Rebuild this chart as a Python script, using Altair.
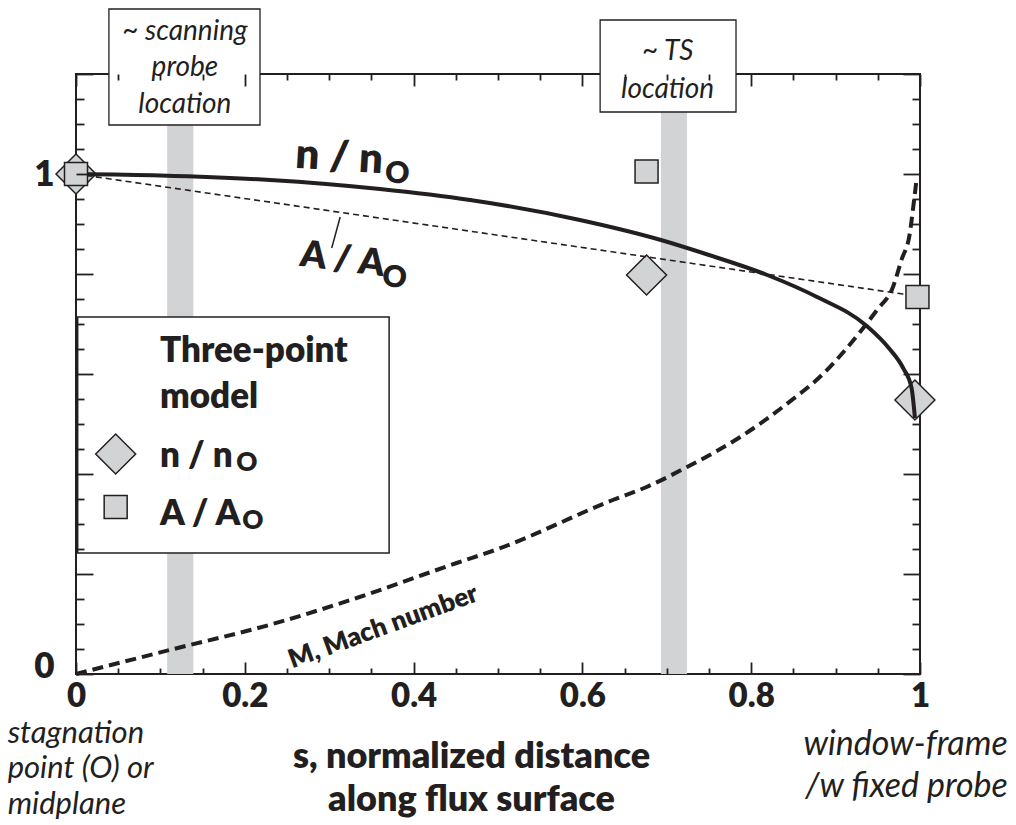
import altair as alt
import pandas as pd

INK = "#231f20"
GRAY = "#d1d3d4"
FONT = "Lato"
BOLD = 800

# ---- curves (s = normalized distance) ----
n_s = [0, 0.1, 0.23, 0.36, 0.467, 0.597, 0.693, 0.75, 0.819, 0.878, 0.937, 0.964, 0.98, 0.99, 0.994]
n_v = [1, 0.997, 0.988, 0.970, 0.948, 0.908, 0.868, 0.838, 0.798, 0.754, 0.696, 0.650, 0.612, 0.572, 0.512]

m_s = [0, 0.111, 0.233, 0.336, 0.451, 0.5, 0.636, 0.676, 0.724, 0.787, 0.842, 0.885,
       0.929, 0.949, 0.968, 0.978, 0.988, 0.992, 0.996]
m_v = [0, 0.048, 0.100, 0.154, 0.222, 0.25, 0.348, 0.374, 0.414, 0.474, 0.540, 0.600,
       0.684, 0.728, 0.774, 0.828, 0.882, 0.934, 0.99]

a_s = [0, 1]
a_v = [1, 0.755]

# ---- three-point model markers ----
diam_s = [0, 0.676, 0.994]
diam_v = [1, 0.798, 0.548]
sq_s = [0, 0.676, 0.997]
sq_v = [1, 1.005, 0.754]

# ---- shaded diagnostic locations ----
band_lo = [0.108, 0.693]
band_hi = [0.139, 0.724]
band_top = [1.098, 1.124]

# ---- label boxes ----
box_x1 = [0.039, 0.621]
box_x2 = [0.218, 0.782]
box_y1 = [1.098, 1.124]
box_y2 = [1.33, 1.308]
box_text = ["~ scanning", "probe", "location", "~ TS", "location"]
box_text_s = [0.129, 0.129, 0.129, 0.701, 0.701]
box_text_v = [1.268, 1.196, 1.122, 1.228, 1.152]

# ---- legend ----
leg_box = [0.002, 0.371, 0.242, 0.714]
leg_title = ["Three-point", "model"]
leg_title_s = [0.0995, 0.0995]
leg_title_v = [0.624, 0.532]
leg_lab = ["n / n", "A / A"]
leg_lab_s = [0.0995, 0.0995]
leg_lab_v = [0.414, 0.298]
leg_sub = ["O", "O"]
leg_sub_s = [0.190, 0.197]
leg_sub_v = [0.406, 0.290]
leg_diam = [0.047, 0.44]
leg_sq = [0.047, 0.334]

# ---- curve labels ----
cl_text = ["n / n", "A / A"]
cl_s = [0.311, 0.314]
cl_v = [1.007, 0.806]
cl_angle = [3.5, 7]
cl_sub_s = [0.380, 0.376]
cl_sub_v = [0.982, 0.774]
mach_label = "M, Mach number"
mach_pos = [0.364, 0.094]
leader = [0.313, 0.914, 0.303, 0.852]

# ---- bottom notes ----
left_note = ["stagnation", "point (O) or", "midplane"]
left_note_s = [-0.081, -0.081, -0.081]
left_note_v = [-0.138, -0.208, -0.280]
right_note = ["window-frame", "/w fixed probe"]
right_note_s = [1.104, 1.104]
right_note_v = [-0.162, -0.246]

# ---- ticks ----
x_labels = [0, 0.2, 0.4, 0.6, 0.8, 1]
x_ticks = [0, 0.05, 0.1, 0.15, 0.2, 0.25, 0.3, 0.35, 0.4, 0.45, 0.5, 0.55, 0.6, 0.65, 0.7,
           0.75, 0.8, 0.85, 0.9, 0.95, 1]
y_labels = [0, 1]
y_ticks = [0, 0.05, 0.1, 0.15, 0.2, 0.25, 0.3, 0.35, 0.4, 0.45, 0.5, 0.55, 0.6, 0.65, 0.7,
           0.75, 0.8, 0.85, 0.9, 0.95, 1, 1.05, 1.1, 1.15, 1.2]

W, H = 844, 600

xscale = alt.Scale(domain=[0, 1], nice=False, zero=False)
yscale = alt.Scale(domain=[0, 1.2], nice=False, zero=False)

MAJOR_TEST = "abs(datum.value * 5 - round(datum.value * 5)) < 0.001"


def X(field="s", axis=None):
    return alt.X(f"{field}:Q", scale=xscale, axis=axis)


def Y(field="v", axis=None):
    return alt.Y(f"{field}:Q", scale=yscale, axis=axis)


def inward_ticks(orient, values, offset, major, minor, z=1):
    # an axis of the opposite orient, moved across the plot so its ticks point inward
    return alt.Axis(orient=orient, values=values, offset=offset, domain=False, grid=False,
                    labels=False, title=None, tickColor=INK, tickWidth=1.8, zindex=z,
                    tickSize={"condition": {"test": MAJOR_TEST, "value": major},
                              "value": minor})


ax_x_labels = alt.Axis(
    orient="bottom", values=x_labels, format="~g", domain=False, grid=False, tickSize=0,
    tickOpacity=0, labelFont=FONT, labelFontWeight=BOLD, labelFontSize=33, labelColor=INK,
    labelPadding=6, labelFlush=False, labelOverlap=False, zindex=1,
    title=["s, normalized distance", "along flux surface"], titleFont=FONT,
    titleFontWeight=BOLD, titleFontSize=36, titleColor=INK, titleX=395, titleY=93,
    titleAlign="center", titleBaseline="alphabetic", titleLineHeight=43, titleAngle=0)
ax_y_labels = alt.Axis(
    orient="left", values=y_labels, format="~g", domain=False, grid=False, tickSize=0,
    tickOpacity=0, labelFont=FONT, labelFontWeight=BOLD, labelFontSize=35, labelColor=INK,
    labelPadding=22, labelFlush=False, labelOverlap=False, zindex=1,
    labelOffset={"condition": {"test": "datum.value == 0", "value": -8}, "value": 0},
    title=None)

ax_ticks_bottom = inward_ticks("top", x_ticks, -H, 12, 6)          # on bottom edge
ax_ticks_top = inward_ticks("bottom", x_ticks, -H, 12, 6)          # on top edge
ax_ticks_left = inward_ticks("right", y_ticks, -W, 17, 8)          # on left edge
ax_ticks_right = inward_ticks("left", y_ticks, -W, 17, 8, z=0)     # on right edge, under markers

# ---- layers ----
bands = alt.Chart(pd.DataFrame({"s": band_lo, "s2": band_hi, "v": [0, 0], "v2": band_top})
                  ).mark_rect(color=GRAY).encode(
    x=X(), x2=alt.X2("s2"), y=Y(), y2=alt.Y2("v2"))

boxes = alt.Chart(pd.DataFrame({"s": box_x1, "s2": box_x2, "v": box_y1, "v2": box_y2})
                  ).mark_rect(fill="white", stroke=INK, strokeWidth=1.3).encode(
    x=X(), x2=alt.X2("s2"), y=Y(), y2=alt.Y2("v2"))

legend_box = alt.Chart(pd.DataFrame({"s": [leg_box[0]], "s2": [leg_box[1]],
                                     "v": [leg_box[2]], "v2": [leg_box[3]]})
                       ).mark_rect(fill="white", stroke=INK, strokeWidth=1.5).encode(
    x=X(), x2=alt.X2("s2"), y=Y(), y2=alt.Y2("v2"))

diamonds = alt.Chart(pd.DataFrame({"s": diam_s + [leg_diam[0]], "v": diam_v + [leg_diam[1]]})
                     ).mark_point(shape="diamond", size=1600, filled=True, fill=GRAY,
                                  stroke=INK, strokeWidth=1.5, opacity=1).encode(
    x=X(axis=ax_x_labels), y=Y(axis=ax_y_labels))

n_line = alt.Chart(pd.DataFrame({"s": n_s, "v": n_v})).mark_line(
    color=INK, strokeWidth=4, interpolate="monotone").encode(
    x=X(axis=ax_ticks_bottom), y=Y(axis=ax_ticks_left))

m_line = alt.Chart(pd.DataFrame({"s": m_s, "v": m_v})).mark_line(
    color=INK, strokeWidth=4, strokeDash=[11, 6], interpolate="monotone").encode(
    x=X(axis=ax_ticks_top), y=Y(axis=ax_ticks_right))

a_line = alt.Chart(pd.DataFrame({"s": a_s, "v": a_v})).mark_line(
    color=INK, strokeWidth=1.6, strokeDash=[6, 4]).encode(x=X(), y=Y())

squares = alt.Chart(pd.DataFrame({"s": sq_s + [leg_sq[0]], "v": sq_v + [leg_sq[1]]})
                    ).mark_point(shape="square", size=529, filled=True, fill=GRAY,
                                 stroke=INK, strokeWidth=1.5, opacity=1).encode(
    x=X(), y=Y())

leader_rule = alt.Chart(pd.DataFrame({"s": [leader[0]], "v": [leader[1]],
                                      "s2": [leader[2]], "v2": [leader[3]]})
                        ).mark_rule(color=INK, strokeWidth=1.5).encode(
    x=X(), y=Y(), x2=alt.X2("s2"), y2=alt.Y2("v2"))


def text_layer(xs, ys, texts, size, weight=BOLD, style="normal", angle=0,
               align="center", baseline="alphabetic"):
    df = pd.DataFrame({"s": xs, "v": ys, "t": texts})
    return alt.Chart(df).mark_text(font=FONT, fontSize=size, fontWeight=weight,
                                   fontStyle=style, angle=angle, align=align,
                                   baseline=baseline, color=INK).encode(
        x=X(), y=Y(), text="t:N")


texts = [
    text_layer(box_text_s, box_text_v, box_text, 28, weight="normal", style="italic"),
    text_layer(leg_title_s, leg_title_v, leg_title, 35, align="left"),
    text_layer(leg_lab_s, leg_lab_v, leg_lab, 35, align="left"),
    text_layer(leg_sub_s, leg_sub_v, leg_sub, 26, align="left"),
    text_layer([cl_s[0]], [cl_v[0]], [cl_text[0]], 42, angle=cl_angle[0]),
    text_layer([cl_sub_s[0]], [cl_sub_v[0]], ["O"], 30, angle=cl_angle[0]),
    text_layer([cl_s[1]], [cl_v[1]], [cl_text[1]], 37, angle=cl_angle[1]),
    text_layer([cl_sub_s[1]], [cl_sub_v[1]], ["O"], 30, angle=cl_angle[1]),
    text_layer([mach_pos[0]], [mach_pos[1]], [mach_label], 26, angle=340,
               baseline="middle"),
    text_layer(left_note_s, left_note_v, left_note, 31, weight="normal", style="italic",
               align="left"),
    text_layer(right_note_s, right_note_v, right_note, 34, weight="normal", style="italic",
               align="right"),
]

chart = alt.layer(
    bands, boxes, legend_box, diamonds, n_line, m_line, a_line, squares, leader_rule, *texts
).resolve_axis(x="independent", y="independent").properties(
    width=W, height=H,
    autosize=alt.AutoSizeParams(type="none"),
    padding={"left": 76, "top": 74, "right": 96, "bottom": 151},
    background="white",
).configure_view(stroke=INK, strokeWidth=2)

chart.save("out.html", embed_options={"renderer": "svg", "actions": False})
